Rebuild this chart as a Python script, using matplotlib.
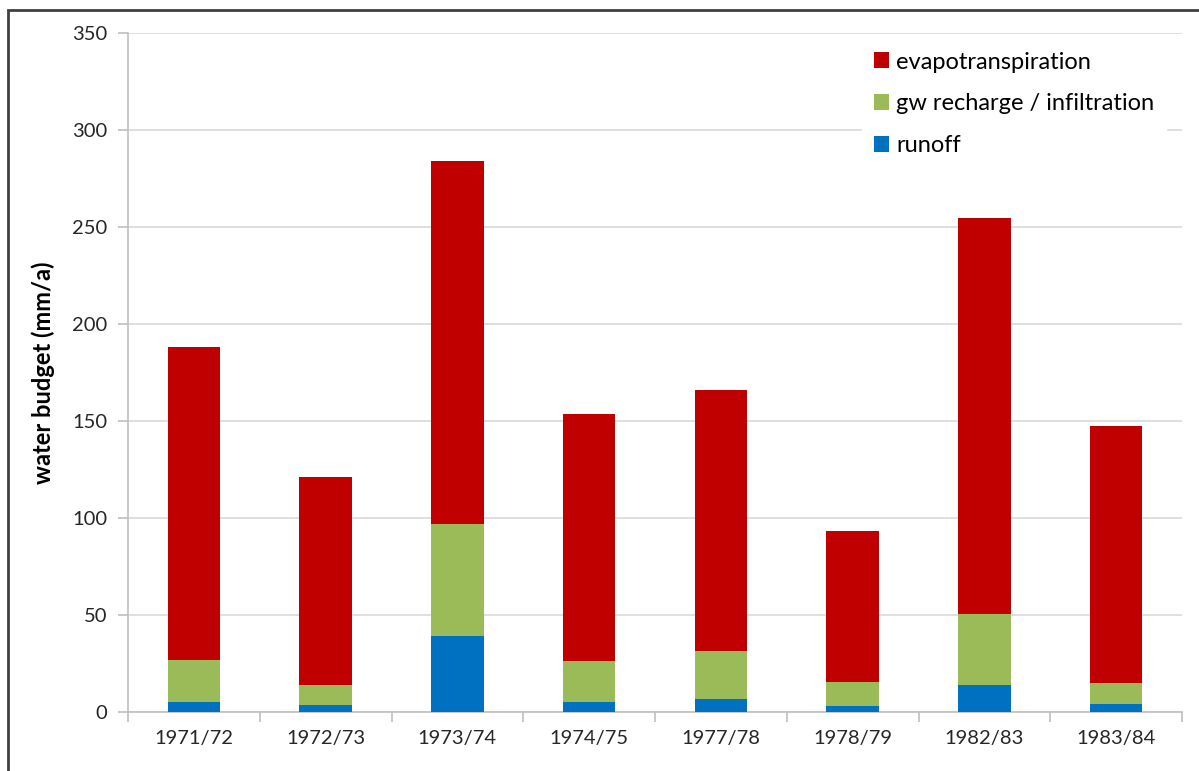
import numpy as np
import matplotlib.pyplot as plt
from matplotlib.patches import Rectangle

# water budget per hydrological year (mm/a)
years = ["1971/72", "1972/73", "1973/74", "1974/75", "1977/78", "1978/79", "1982/83", "1983/84"]
runoff = [5.2, 3.8, 39.0, 5.2, 6.5, 3.3, 13.7, 4.0]
gw_top = [26.8, 13.7, 96.9, 26.3, 31.4, 15.3, 50.7, 15.0]
totals = [188.0, 121.0, 284.0, 153.5, 166.0, 93.3, 254.6, 147.5]

gw_recharge = [g - r for g, r in zip(gw_top, runoff)]
evapo = [t - g for t, g in zip(totals, gw_top)]

plt.rcParams["font.family"] = ["Lato", "DejaVu Sans"]

fig = plt.figure(figsize=(11.99, 7.71), dpi=100)
ax = fig.add_axes([128 / 1199, 1 - 712 / 771, (1182 - 128) / 1199, (712 - 33) / 771])

x = np.arange(len(years))
w = 0.4
ax.bar(x, runoff, w, color="#0070c0", label="runoff", zorder=3)
ax.bar(x, gw_recharge, w, bottom=runoff, color="#9bbb59", label="gw recharge / infiltration", zorder=3)
ax.bar(x, evapo, w, bottom=gw_top, color="#c00000", label="evapotranspiration", zorder=3)

ax.set_xlim(-0.5, len(years) - 0.5)
ax.set_ylim(0, 350)
ax.set_yticks(np.arange(0, 351, 50))
ax.yaxis.grid(True, color="#d9d9d9", linewidth=1.2, zorder=0)

# category labels centered, ticks at boundaries
ax.set_xticks(np.arange(-0.5, len(years), 1))
ax.set_xticklabels([])
ax.set_xticks(x, minor=True)
ax.set_xticklabels(years, minor=True)
ax.tick_params(axis="x", which="major", length=7, color="#bfbfbf", width=1.2)
ax.tick_params(axis="x", which="minor", length=0, pad=13, labelsize=14.5, labelcolor="#262626")
ax.tick_params(axis="y", length=7, color="#bfbfbf", width=1.2, labelsize=14.5, labelcolor="#262626", pad=8)

for s in ["top", "right"]:
    ax.spines[s].set_visible(False)
for s in ["left", "bottom"]:
    ax.spines[s].set_color("#bfbfbf")
    ax.spines[s].set_linewidth(1.2)

ax.set_ylabel("water budget (mm/a)", fontsize=17, fontweight="bold", labelpad=12)

h, l = ax.get_legend_handles_labels()
leg = ax.legend(h[::-1], l[::-1], loc="upper right", bbox_to_anchor=(0.985, 0.99),
                frameon=True, fontsize=17, handlelength=0.65, handleheight=0.65,
                handletextpad=0.3, labelspacing=0.88, borderpad=0.5, borderaxespad=0)
leg.get_frame().set_edgecolor("white")
leg.get_frame().set_facecolor("white")
leg.get_frame().set_alpha(1)
leg.set_zorder(5)

# outer frame of the exported chart (left/top edges visible)
fig.patches.append(Rectangle((8 / 1199, -0.1), 1.2, 1 - 10 / 771 + 0.1, transform=fig.transFigure,
                             fill=False, edgecolor="#404040", linewidth=2))

fig.savefig("out.png", dpi=100)
